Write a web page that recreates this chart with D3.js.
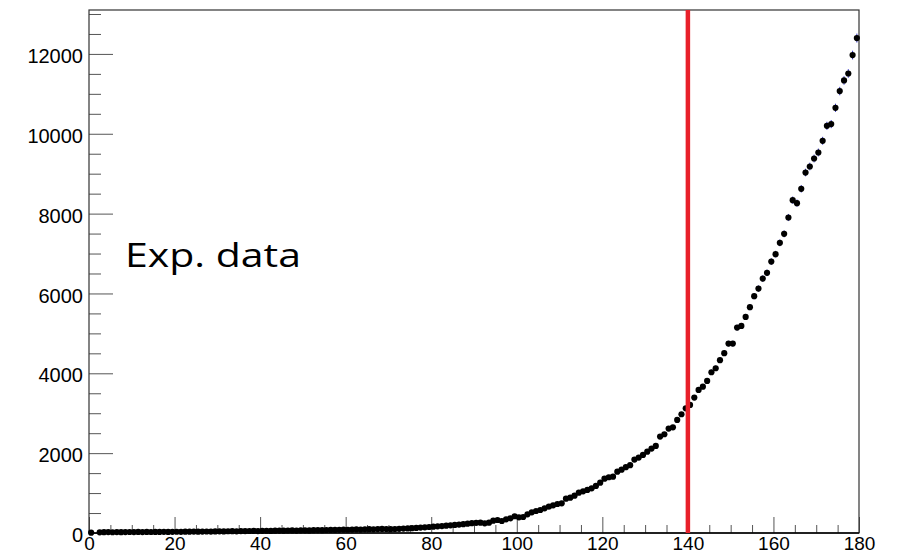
<!DOCTYPE html>
<html>
<head>
<meta charset="utf-8">
<script src="https://cdn.jsdelivr.net/npm/d3@7"></script>
<style>
    html, body { margin: 0; padding: 0; background: #fff; }
    #chart { width: 897px; height: 555px; }
    .axis text { font-family: "Liberation Sans", Arial, sans-serif; font-size: 20px; fill: #000; }
    .x.axis text { font-size: 19px; }
    .axis line { stroke: #555; }
    .axis path { display: none; }
</style>
</head>
<body>
<div id="chart"></div>
<script>
        // -------- data --------
        // bin contents, one bin per unit from 0 to 180 (null = empty bin, not drawn)
        var binValues = [
            8, null, 18, 20, 22, 19, 24, 21, 23, 25, 22, 26, 24, 27, 25, 28, 26, 29, 27, 30,
            31, 29, 33, 32, 35, 33, 36, 38, 35, 40, 42, 39, 44, 46, 43, 48, 47, 50, 52, 49,
            54, 56, 53, 58, 60, 57, 62, 64, 61, 66, 68, 65, 70, 73, 71, 75, 78, 76, 80, 83,
            81, 86, 89, 87, 92, 95, 93, 98, 102, 100, 96, 100, 104, 110, 115, 121, 128, 135, 142, 150,
            158, 166, 174, 183, 192, 202, 212, 222, 233, 245, 256, 258, 243, 258, 309, 326, 301, 343, 368, 420,
            393, 401, 469, 519, 551, 576, 619, 659, 694, 727, 744, 860, 885, 935, 1010, 1045, 1078, 1120, 1178, 1261,
            1361, 1396, 1411, 1536, 1585, 1650, 1700, 1840, 1888, 1955, 2038, 2114, 2180, 2414, 2473, 2615, 2648, 2832, 2974, 3124,
            3208, 3391, 3584, 3666, 3809, 4027, 4127, 4328, 4503, 4744, 4744, 5145, 5187, 5413, 5656, 5932, 6122, 6373, 6516, 6799,
            6984, 7267, 7493, 7902, 8337, 8262, 8621, 9029, 9180, 9380, 9531, 9824, 10199, 10242, 10650, 11069, 11335, 11510, 11971, 12397
        ];
        var xMajorTicks = [0, 20, 40, 60, 80, 100, 120, 140, 160, 180];
        var yMajorTicks = [0, 2000, 4000, 6000, 8000, 10000, 12000];
        var cutValue = 140;          // red vertical line
        var labelText = "Exp. data";

        // -------- layout --------
        var options = {
            width: 897,
            height: 555,
            margins: { left: 89, right: 38, top: 10, bottom: 22 },
            xDomain: [0, 180],
            yDomain: [0, 13100]
        };
        var margins = options.margins;
        var width = options.width - margins.left - margins.right;
        var height = options.height - margins.top - margins.bottom;

        var svg = d3.select("#chart")
            .append("svg")
            .attr("width", options.width)
            .attr("height", options.height)
            .append("g")
            .attr("transform", "translate(" + margins.left + "," + margins.top + ")");

        var x = d3.scaleLinear().domain(options.xDomain).range([0, width]);
        var y = d3.scaleLinear().domain(options.yDomain).range([height, 0]);

        // minor ticks every 5 on x, every 500 on y
        var xMinor = d3.range(0, 181, 5).filter(function (d) { return d % 20 !== 0; });
        var yMinor = d3.range(0, 13001, 500).filter(function (d) { return d % 2000 !== 0; });

        svg.append("g")
            .attr("class", "x axis minor")
            .attr("transform", "translate(0," + height + ")")
            .call(d3.axisBottom(x).tickValues(xMinor).tickSizeInner(-8).tickSizeOuter(0).tickFormat(""));
        svg.append("g")
            .attr("class", "x axis")
            .attr("transform", "translate(0," + height + ")")
            .call(d3.axisBottom(x).tickValues(xMajorTicks).tickSizeInner(-16).tickSizeOuter(0).tickPadding(4).tickFormat(d3.format("d")));

        svg.append("g")
            .attr("class", "y axis minor")
            .call(d3.axisLeft(y).tickValues(yMinor).tickSizeInner(-12).tickSizeOuter(0).tickFormat(""));
        svg.append("g")
            .attr("class", "y axis")
            .call(d3.axisLeft(y).tickValues(yMajorTicks).tickSizeInner(-24).tickSizeOuter(0).tickPadding(6).tickFormat(d3.format("d")))
            .selectAll("text")
            .attr("dy", "0.43em");

        // frame
        svg.append("rect")
            .attr("x", 0)
            .attr("y", 0)
            .attr("width", width)
            .attr("height", height)
            .attr("fill", "none")
            .attr("stroke", "#333")
            .attr("stroke-width", 1.2);
        svg.append("line")
            .attr("x1", 0).attr("x2", width)
            .attr("y1", height).attr("y2", height)
            .attr("stroke", "#000")
            .attr("stroke-width", 1.5);

        var points = binValues.map(function (v, i) { return { x: i + 0.5, v: v }; })
            .filter(function (d) { return d.v !== null; });

        // error bars
        svg.append("g")
            .selectAll("line")
            .data(points)
            .join("line")
            .attr("x1", function (d) { return x(d.x); })
            .attr("x2", function (d) { return x(d.x); })
            .attr("y1", function (d) { return y(d.v + Math.sqrt(d.v)); })
            .attr("y2", function (d) { return y(Math.max(0, d.v - Math.sqrt(d.v))); })
            .attr("stroke", "#3535c8")
            .attr("stroke-width", 1);

        // markers
        svg.append("g")
            .selectAll("circle")
            .data(points)
            .join("circle")
            .attr("cx", function (d) { return x(d.x); })
            .attr("cy", function (d) { return y(d.v); })
            .attr("r", 3.1)
            .attr("fill", "#000");

        // cut line
        svg.append("line")
            .attr("x1", x(cutValue)).attr("x2", x(cutValue))
            .attr("y1", 0).attr("y2", height)
            .attr("stroke", "#e8202a")
            .attr("stroke-width", 4.5);

        // label
        svg.append("text")
            .attr("x", 36)
            .attr("y", 257)
            .attr("textLength", 176)
            .attr("lengthAdjust", "spacingAndGlyphs")
            .style("font-family", "'Open Sans', sans-serif")
            .style("font-size", "32.7px")
            .style("fill", "#000")
            .text(labelText);
</script>
</body>
</html>
